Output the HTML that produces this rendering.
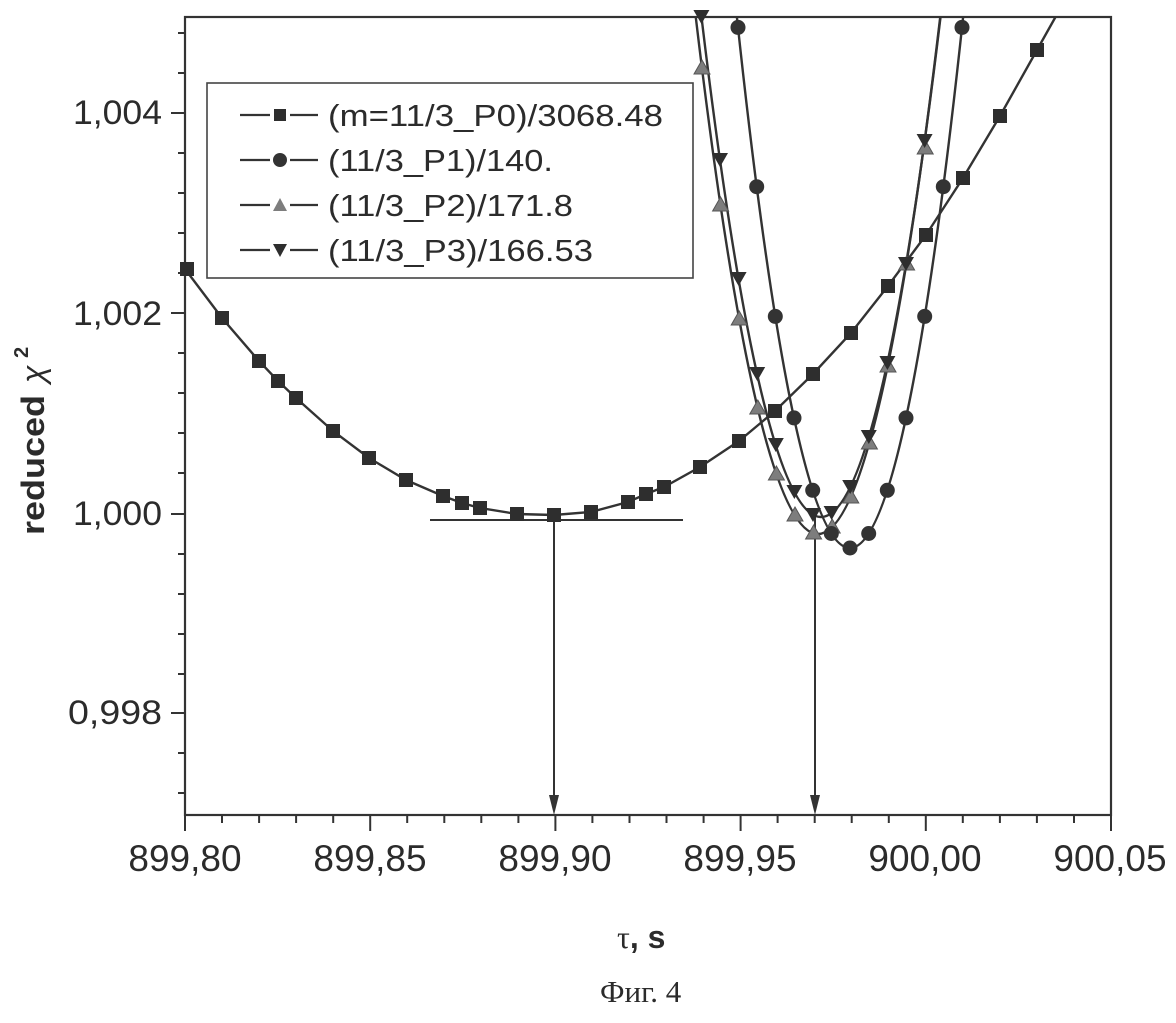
<!DOCTYPE html>
<html><head><meta charset="utf-8"><style>
html,body{margin:0;padding:0;background:#fff;}
svg{display:block;}
text{font-family:"Liberation Sans",Arial,sans-serif;fill:#2b2b2b;}
</style></head><body>
<svg width="1176" height="1023" viewBox="0 0 1176 1023" xmlns="http://www.w3.org/2000/svg">
<defs>
<clipPath id="pc"><rect x="185" y="17" width="926" height="798"/></clipPath>
</defs>
<rect width="1176" height="1023" fill="#fff"/>

<!-- frame -->
<rect x="185" y="17" width="926" height="798" fill="none" stroke="#333" stroke-width="2.2"/>

<!-- y ticks -->
<g stroke="#333" stroke-width="2">
<line x1="171" y1="113" x2="185" y2="113"/><line x1="171" y1="313" x2="185" y2="313"/>
<line x1="171" y1="514" x2="185" y2="514"/><line x1="171" y1="713" x2="185" y2="713"/>
<line x1="178" y1="33" x2="185" y2="33"/><line x1="178" y1="73" x2="185" y2="73"/>
<line x1="178" y1="153" x2="185" y2="153"/><line x1="178" y1="193" x2="185" y2="193"/>
<line x1="178" y1="233" x2="185" y2="233"/><line x1="178" y1="273" x2="185" y2="273"/>
<line x1="178" y1="353" x2="185" y2="353"/><line x1="178" y1="393" x2="185" y2="393"/>
<line x1="178" y1="433" x2="185" y2="433"/><line x1="178" y1="473" x2="185" y2="473"/>
<line x1="178" y1="554" x2="185" y2="554"/><line x1="178" y1="594" x2="185" y2="594"/>
<line x1="178" y1="634" x2="185" y2="634"/><line x1="178" y1="674" x2="185" y2="674"/>
<line x1="178" y1="753" x2="185" y2="753"/><line x1="178" y1="793" x2="185" y2="793"/>
</g>
<!-- x ticks -->
<g stroke="#333" stroke-width="2">
<line x1="185" y1="815" x2="185" y2="831"/><line x1="370.2" y1="815" x2="370.2" y2="831"/>
<line x1="555.4" y1="815" x2="555.4" y2="831"/><line x1="740.6" y1="815" x2="740.6" y2="831"/>
<line x1="925.8" y1="815" x2="925.8" y2="831"/><line x1="1111" y1="815" x2="1111" y2="831"/>
<line x1="222" y1="815" x2="222" y2="823"/><line x1="259.1" y1="815" x2="259.1" y2="823"/>
<line x1="296.1" y1="815" x2="296.1" y2="823"/><line x1="333.2" y1="815" x2="333.2" y2="823"/>
<line x1="407.2" y1="815" x2="407.2" y2="823"/><line x1="444.3" y1="815" x2="444.3" y2="823"/>
<line x1="481.3" y1="815" x2="481.3" y2="823"/><line x1="518.4" y1="815" x2="518.4" y2="823"/>
<line x1="592.4" y1="815" x2="592.4" y2="823"/><line x1="629.5" y1="815" x2="629.5" y2="823"/>
<line x1="666.5" y1="815" x2="666.5" y2="823"/><line x1="703.6" y1="815" x2="703.6" y2="823"/>
<line x1="777.6" y1="815" x2="777.6" y2="823"/><line x1="814.7" y1="815" x2="814.7" y2="823"/>
<line x1="851.7" y1="815" x2="851.7" y2="823"/><line x1="888.8" y1="815" x2="888.8" y2="823"/>
<line x1="962.8" y1="815" x2="962.8" y2="823"/><line x1="999.9" y1="815" x2="999.9" y2="823"/>
<line x1="1036.9" y1="815" x2="1036.9" y2="823"/><line x1="1074" y1="815" x2="1074" y2="823"/>
</g>

<!-- y tick labels -->
<g font-size="34">
<text x="73" y="124" textLength="89" lengthAdjust="spacingAndGlyphs">1,004</text>
<text x="73" y="325" textLength="89" lengthAdjust="spacingAndGlyphs">1,002</text>
<text x="73" y="525" textLength="89" lengthAdjust="spacingAndGlyphs">1,000</text>
<text x="68" y="724" textLength="94" lengthAdjust="spacingAndGlyphs">0,998</text>
</g>
<!-- x tick labels -->
<g font-size="37" text-anchor="middle">
<text x="185" y="871">899,80</text>
<text x="370" y="871">899,85</text>
<text x="555" y="871">899,90</text>
<text x="740" y="871">899,95</text>
<text x="925" y="871">900,00</text>
<text x="1110" y="871">900,05</text>
</g>

<!-- axis titles -->
<text transform="translate(44,535) rotate(-90)" font-size="32" font-weight="bold" textLength="140" lengthAdjust="spacingAndGlyphs">reduced</text>
<text transform="translate(44,383) rotate(-90)" font-size="32" font-family="'Liberation Serif',serif" font-style="italic">χ</text>
<text transform="translate(28,358) rotate(-90)" font-size="20" font-weight="bold">2</text>
<text x="617" y="948" font-size="32" font-weight="bold"><tspan font-family="'Liberation Serif',serif" font-weight="normal">τ</tspan>, s</text>
<text x="600" y="1002" font-size="31" style="font-family:'Liberation Serif',serif">Фиг. 4</text>

<!-- curves -->
<g clip-path="url(#pc)" fill="none" stroke="#333" stroke-width="2.4">
<polyline points="185,269 222,318 259,361 278,381 296,398 333,431 369,458 406,480 443,496 462,503 480,508 517,514 554,515 591,512 628,502 646,494 664,487 700,467 739,441 775,411 813,374 851,333 888,286 926,235 963,178 1000,116 1037,50 1074,-16"/>
<path d="M730,-49.6 Q850,1145.6 970,-49.6"/>
<path d="M688,-50.7 Q818,1118.7 948,-50.7"/>
<path d="M691,-74.5 Q821,1108.5 951,-74.5"/>
</g>

<!-- horizontal line and arrows -->
<g stroke="#333" stroke-width="2">
<line x1="430" y1="520" x2="683" y2="520"/>
<line x1="554" y1="515" x2="554" y2="800"/>
<line x1="815" y1="515" x2="815" y2="800"/>
</g>
<polygon points="549,795 559,795 554,815" fill="#333"/>
<polygon points="810,795 820,795 815,815" fill="#333"/>

<!-- P0 squares -->
<g fill="#2e2e2e">
<rect x="180" y="262" width="14" height="14"/><rect x="215" y="311" width="14" height="14"/>
<rect x="252" y="354" width="14" height="14"/><rect x="271" y="374" width="14" height="14"/>
<rect x="289" y="391" width="14" height="14"/><rect x="326" y="424" width="14" height="14"/>
<rect x="362" y="451" width="14" height="14"/><rect x="399" y="473" width="14" height="14"/>
<rect x="436" y="489" width="14" height="14"/><rect x="455" y="496" width="14" height="14"/>
<rect x="473" y="501" width="14" height="14"/><rect x="510" y="507" width="14" height="14"/>
<rect x="547" y="508" width="14" height="14"/><rect x="584" y="505" width="14" height="14"/>
<rect x="621" y="495" width="14" height="14"/><rect x="639" y="487" width="14" height="14"/>
<rect x="657" y="480" width="14" height="14"/><rect x="693" y="460" width="14" height="14"/>
<rect x="732" y="434" width="14" height="14"/><rect x="768" y="404" width="14" height="14"/>
<rect x="806" y="367" width="14" height="14"/><rect x="844" y="326" width="14" height="14"/>
<rect x="881" y="279" width="14" height="14"/><rect x="919" y="228" width="14" height="14"/>
<rect x="956" y="171" width="14" height="14"/><rect x="993" y="109" width="14" height="14"/>
<rect x="1030" y="43" width="14" height="14"/>
</g>

<!-- P2 up triangles (gray) -->
<g fill="#7d7d7d" stroke="#555" stroke-width="1">
<polygon points="702,60 710,74 694,74"/><polygon points="720.6,197 728.6,211 712.6,211"/>
<polygon points="739.2,311 747.2,325 731.2,325"/><polygon points="757.8,400 765.8,414 749.8,414"/>
<polygon points="776.4,466 784.4,480 768.4,480"/><polygon points="795,507 803,521 787,521"/>
<polygon points="813.6,525 821.6,539 805.6,539"/><polygon points="832.2,519 840.2,533 824.2,533"/>
<polygon points="850.8,489 858.8,503 842.8,503"/><polygon points="869.4,435 877.4,449 861.4,449"/>
<polygon points="888,358 896,372 880,372"/><polygon points="906.6,256 914.6,270 898.6,270"/>
<polygon points="925.2,140 933.2,154 917.2,154"/>
</g>

<!-- P3 down triangles -->
<g fill="#2e2e2e">
<polygon points="693.4,10 709.4,10 701.4,24"/><polygon points="712,153 728,153 720,167"/>
<polygon points="730.6,272 746.6,272 738.6,286"/><polygon points="749.2,367 765.2,367 757.2,381"/>
<polygon points="767.8,438 783.8,438 775.8,452"/><polygon points="786.4,485 802.4,485 794.4,499"/>
<polygon points="805,508 821,508 813,522"/><polygon points="823.6,506 839.6,506 831.6,520"/>
<polygon points="842.2,480 858.2,480 850.2,494"/><polygon points="860.8,430 876.8,430 868.8,444"/>
<polygon points="879.4,356 895.4,356 887.4,370"/><polygon points="898,257 914,257 906,271"/>
<polygon points="916.6,134 932.6,134 924.6,148"/>
</g>

<!-- P1 circles -->
<g fill="#333">
<circle cx="738" cy="27.4" r="7.5"/><circle cx="756.7" cy="186.7" r="7.5"/>
<circle cx="775.3" cy="316.4" r="7.5"/><circle cx="794" cy="417.9" r="7.5"/>
<circle cx="812.7" cy="490.3" r="7.5"/><circle cx="831.3" cy="533.5" r="7.5"/>
<circle cx="850" cy="548" r="7.5"/><circle cx="868.7" cy="533.5" r="7.5"/>
<circle cx="887.3" cy="490.3" r="7.5"/><circle cx="906" cy="417.9" r="7.5"/>
<circle cx="924.7" cy="316.4" r="7.5"/><circle cx="943.3" cy="186.7" r="7.5"/>
<circle cx="962" cy="27.4" r="7.5"/>
</g>

<!-- legend -->
<rect x="207" y="83" width="486" height="195" fill="#fff" stroke="#444" stroke-width="1.6"/>
<g stroke="#333" stroke-width="2.2">
<line x1="240" y1="115" x2="270" y2="115"/><line x1="290" y1="115" x2="318" y2="115"/>
<line x1="240" y1="160" x2="270" y2="160"/><line x1="290" y1="160" x2="318" y2="160"/>
<line x1="240" y1="205" x2="270" y2="205"/><line x1="290" y1="205" x2="318" y2="205"/>
<line x1="240" y1="250" x2="270" y2="250"/><line x1="290" y1="250" x2="318" y2="250"/>
</g>
<rect x="274" y="109" width="12" height="12" fill="#2e2e2e"/>
<circle cx="280" cy="160" r="7" fill="#333"/>
<polygon points="280,198 287,211 273,211" fill="#7d7d7d"/>
<polygon points="273,244 287,244 280,257" fill="#2e2e2e"/>
<g font-size="31">
<text x="328" y="126" textLength="335" lengthAdjust="spacingAndGlyphs">(m=11/3_P0)/3068.48</text>
<text x="328" y="171" textLength="225" lengthAdjust="spacingAndGlyphs">(11/3_P1)/140.</text>
<text x="328" y="216" textLength="245" lengthAdjust="spacingAndGlyphs">(11/3_P2)/171.8</text>
<text x="328" y="261" textLength="265" lengthAdjust="spacingAndGlyphs">(11/3_P3)/166.53</text>
</g>
</svg>
</body></html>
